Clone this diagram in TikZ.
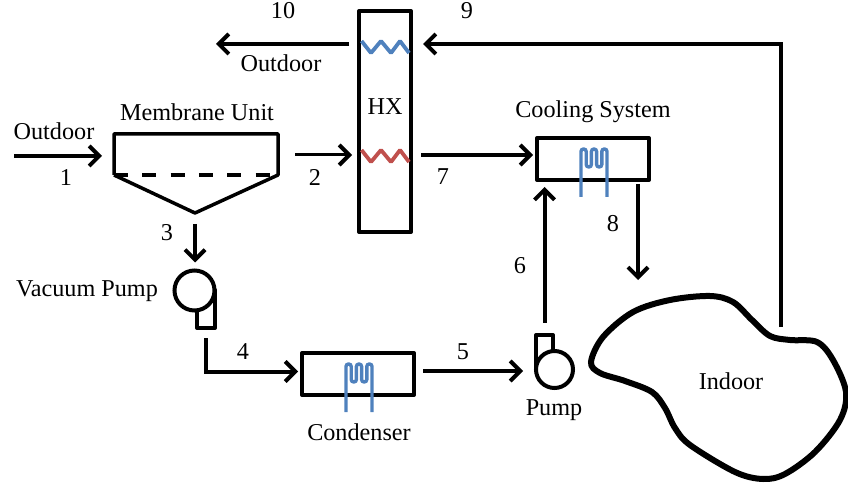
\documentclass[tikz,border=0pt]{standalone}
\usepackage{fontspec}
\setmainfont{Liberation Serif}
\usetikzlibrary{arrows.meta, positioning}
\definecolor{coilblue}{HTML}{4F81BD}
\definecolor{coilred}{HTML}{C0504D}
\tikzset{
  lab/.style={inner sep=0pt, font=\fontsize{24.2}{28}\selectfont},
  unit/.style={rectangle, draw=black, line width=4pt, outer sep=0pt, inner sep=0pt, line join=round},
  hollow/.style={circle, draw=black, line width=4pt, fill=white, outer sep=0pt, inner sep=0pt, minimum size=39pt},
  arrow/.style={-{Straight Barb[length=10pt, width=20pt, line width=4pt]}, line width=4pt, black},
  coil/.pic={\draw[line width=3.4pt, pic actions, rounded corners=2.5pt]
    (-13,0)--(-13,-48)--(-7.8,-48)--(-7.8,-30)--(-2.6,-30)--(-2.6,-48)--(2.6,-48)--(2.6,-30)--(7.8,-30)--(7.8,-48)--(13,-48)--(13,0);},
  wiggle/.pic={\draw[line width=3.8pt, pic actions, rounded corners=1pt]
    (-23.5,-6)--(-14,6)--(-4,-6)--(6,6)--(15,-6)--(24,6);},
}
\begin{document}
\begin{tikzpicture}[x=1pt, y=-1pt]
\useasboundingbox (0,0) rectangle (848,486);
% units
\node[unit, minimum width=52pt, minimum height=221pt] (hx) at (385,121.5) {};
\node[unit, minimum width=112pt, minimum height=42pt] (cooling) at (593,159) {};
\node[unit, minimum width=112pt, minimum height=42pt] (condenser) at (358,374) {};
\node[minimum width=164pt, minimum height=41pt, outer sep=0pt, inner sep=0pt] (membrane) at (196,154.5) {};
\coordinate (apex) at (195,213);
\node[unit, minimum width=18pt, minimum height=38pt] (vactail) at (206,309) {};
\node[hollow, minimum size=40pt] (vacpump) at (194.5,290.5) {};
\node[unit, minimum width=17pt, minimum height=34.5pt] (pumptail) at (544.5,352.2) {};
\node[hollow, minimum size=37pt] (pump) at (554.5,369.5) {};
% membrane unit
\draw[line width=3.5pt, line join=round] (membrane.south west)--(membrane.north west)--(membrane.north east)--(membrane.south east)--(apex)--(membrane.south west);
\draw[line width=4pt, dash pattern=on 14pt off 14.3pt] (membrane.south west)--(membrane.south east);
% indoor
\draw[line width=6pt] plot[smooth cycle, tension=0.55] coordinates {(591,362) (603,337) (633,312) (670,300) (710,296) (733,302) (752,320) (770,336) (790,340) (817,342) (833,360) (846,392) (840,420) (815,452) (785,474) (763,479) (735,472) (690,445) (675,428) (665,408) (652,392) (625,381) (600,373)};
% coils
\pic[coilblue] at (594,197) {coil};
\pic[coilblue] at (359,412) {coil};
\coordinate (hot) at (385,155);
\coordinate (cold) at (385,44);
\pic[coilred] at ([yshift=-1pt]hot) {wiggle};
\pic[coilblue] at ([yshift=-3pt]cold) {wiggle};
% free ends
\coordinate (inlet) at (14,156);
\coordinate (exhaust) at (216,44);
\coordinate (supply) at (638,280);
\coordinate (return) at (781,339);
% streams
\draw[arrow, shorten >=12pt] (inlet)--(membrane.west |- inlet);
\draw[arrow, line width=3pt, shorten <=17pt, shorten >=7pt] (membrane.east |- hot)--(hx.west |- hot);
\draw[arrow, shorten <=11pt, shorten >=8pt] (apex)--(vacpump.north -| apex);
\draw[arrow, shorten <=10pt, shorten >=4pt] (vactail.south)|-([yshift=2.5pt]condenser.west);
\draw[arrow, shorten <=9pt, shorten >=13pt] ([yshift=3pt]condenser.east)--([yshift=-1.5pt]pump.west);
\draw[arrow, shorten <=12pt, shorten >=7pt] (pumptail.north)--(cooling.south -| pumptail.north);
\draw[arrow, shorten <=10pt, shorten >=4pt] (hx.east |- hot)--(cooling.west |- hot);
\draw[arrow, shorten <=4pt] (cooling.south -| supply)--(supply);
\draw[arrow, shorten <=12pt, shorten >=12pt] (return) |- (hx.east |- cold);
\draw[arrow, shorten <=10pt] (hx.west |- cold)--(exhaust);
% labels
\node[lab] (t10) at (283,11) {10};
\node[lab] (t9) at (467,11) {9};
\node[lab] (toutb) at (281,63) {Outdoor};
\node[lab] (touta) at (54,131) {Outdoor};
\node[lab] (t1) at (66,178) {1};
\node[lab] (t2) at (315,177) {2};
\node[lab] (t3) at (167,233) {3};
\node[lab] (tmem) at (197,112) {Membrane Unit};
\node[lab] (thx) at (385,107) {HX};
\node[lab] (tcool) at (593,112) {Cooling System};
\node[lab] (t7) at (443,177) {7};
\node[lab] (t8) at (613,224) {8};
\node[lab] (t6) at (520,266) {6};
\node[lab] (tvac) at (87,291) {Vacuum Pump};
\node[lab] (t4) at (243,352) {4};
\node[lab] (t5) at (463,352) {5};
\node[lab] (tcond) at (359,432) {Condenser};
\node[lab] (tpump) at (554,410) {Pump};
\node[lab] (indoor) at (731,381) {Indoor};
\end{tikzpicture}
\end{document}
